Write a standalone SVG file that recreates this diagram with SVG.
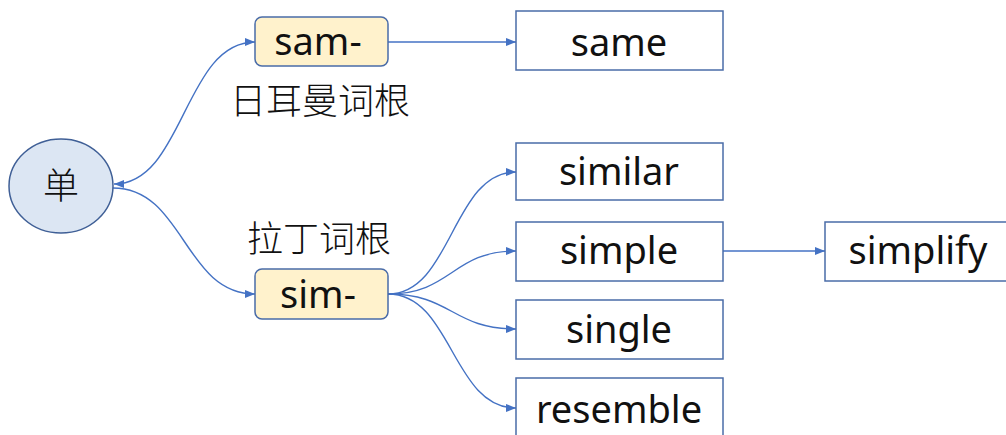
<svg xmlns="http://www.w3.org/2000/svg" width="1006" height="435" viewBox="0 0 1006 435">
<style>
.bg{fill:#ffffff}
.box{fill:#ffffff;stroke:#4a6ca8;stroke-width:1.5}
.root{fill:#fff2cc;stroke:#4a6ca8;stroke-width:1.5}
.circ{fill:#dce6f3;stroke:#3f5f96;stroke-width:1.5}
.lbl{font-family:"Noto Sans","Liberation Sans",sans-serif;font-size:38px;fill:#111111;text-anchor:middle}
.cjk{font-family:"Noto Sans CJK SC","Noto Sans",sans-serif;font-size:36px;font-weight:300;fill:#111111;text-anchor:middle}
.con{fill:none;stroke:#4472c4;stroke-width:1.4}
</style>
<defs>
<marker id="arr" markerUnits="userSpaceOnUse" markerWidth="11" markerHeight="9" refX="10" refY="4" orient="auto-start-reverse">
<path d="M0,0 L10,4 L0,8 z" fill="#4472c4"/>
</marker>
</defs>
<rect class="bg" x="0" y="0" width="1006" height="435"/>
<g id="connectors">
<path class="con" d="M114,184 C184,184 184,42 255,42" marker-start="url(#arr)" marker-end="url(#arr)"/>
<path class="con" d="M113,188 C184,188 184,294 255,294" marker-end="url(#arr)"/>
<path class="con" d="M388,42 L516,42" marker-end="url(#arr)"/>
<path class="con" d="M388,294 C452,294 452,172 516,172" marker-end="url(#arr)"/>
<path class="con" d="M388,294 C452,294 452,251 516,251" marker-end="url(#arr)"/>
<path class="con" d="M388,294 C452,294 452,329 516,329" marker-end="url(#arr)"/>
<path class="con" d="M388,294 C452,294 452,408 516,408" marker-end="url(#arr)"/>
<path class="con" d="M723,251 L825,251" marker-end="url(#arr)"/>
</g>
<g id="node-dan">
<ellipse class="circ" cx="61" cy="186" rx="52" ry="47"/>
<text class="cjk" x="61" y="199">单</text>
</g>
<g id="node-sam">
<rect class="root" x="255" y="17" width="133" height="49" rx="7"/>
<text class="lbl" x="318" y="55">sam-</text>
</g>
<g id="label-germanic">
<text class="cjk" x="320" y="114">日耳曼词根</text>
</g>
<g id="node-sim">
<rect class="root" x="255" y="269" width="133" height="50" rx="7"/>
<text class="lbl" x="318" y="308">sim-</text>
</g>
<g id="label-latin">
<text class="cjk" x="319" y="252">拉丁词根</text>
</g>
<g id="node-same">
<rect class="box" x="516" y="11" width="207" height="59"/>
<text class="lbl" x="619" y="56">same</text>
</g>
<g id="node-similar">
<rect class="box" x="516" y="143" width="207" height="57"/>
<text class="lbl" x="619" y="185">similar</text>
</g>
<g id="node-simple">
<rect class="box" x="516" y="222" width="207" height="59"/>
<text class="lbl" x="619" y="264">simple</text>
</g>
<g id="node-single">
<rect class="box" x="516" y="300" width="207" height="59"/>
<text class="lbl" x="619" y="343">single</text>
</g>
<g id="node-resemble">
<rect class="box" x="516" y="378" width="207" height="60"/>
<text class="lbl" x="619" y="423">resemble</text>
</g>
<g id="node-simplify">
<rect class="box" x="825" y="222" width="190" height="59"/>
<text class="lbl" x="918" y="264">simplify</text>
</g>
</svg>
